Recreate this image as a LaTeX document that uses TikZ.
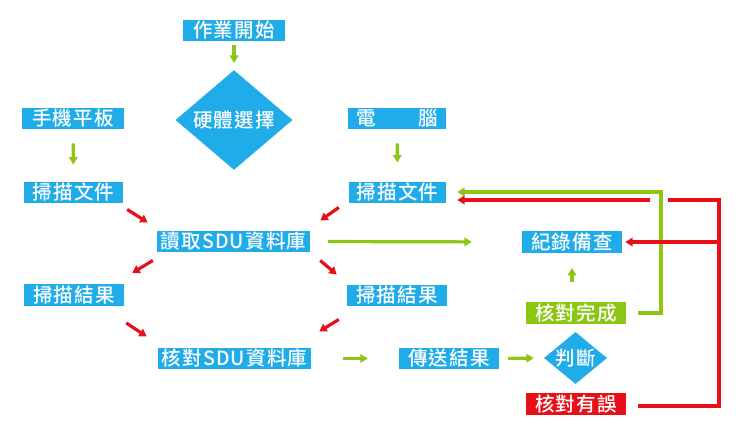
\documentclass[tikz,border=0pt]{standalone}
\usepackage{fontspec}
\setmainfont{Noto Sans CJK TC}[UprightFont={* Medium},BoldFont={* Bold}]
\usetikzlibrary{shapes.geometric,arrows.meta}
\definecolor{bx}{RGB}{32,172,232}
\definecolor{gr}{RGB}{140,198,20}
\definecolor{rd}{RGB}{232,16,24}
\begin{document}
\begin{tikzpicture}[x=1pt,y=-1pt,
  box/.style={rectangle, fill=bx, text=white, inner sep=0pt, minimum width=100pt, minimum height=21.5pt, font=\fontsize{19.5}{19.5}\selectfont\addfontfeatures{LetterSpace=6}},
  dia/.style={diamond, fill=bx, text=white, inner sep=0pt, font=\fontsize{19.5}{19.5}\selectfont\addfontfeatures{LetterSpace=6}},
  ga/.style={draw=gr, line width=3.2pt, -{Triangle[length=7.5pt,width=8.5pt]}},
  ra/.style={draw=rd, line width=3.2pt, -{Triangle[length=7.5pt,width=8.5pt]}},
  gl/.style={draw=gr, line width=3.2pt},
  rl/.style={draw=rd, line width=3.2pt}]
\useasboundingbox (0,0) rectangle (747,442);
% nodes
\node[box, minimum width=102pt] (start) at (234,30.5) {作業開始};
\node[dia, minimum width=117pt, minimum height=95pt] (sel) at (234,120) {硬體選擇};
\node[box, minimum width=102pt] (tab) at (73,118.5) {手機平板};
\node[box, minimum width=98pt] (pc) at (397,118.5) {電　　腦};
\node[box, minimum width=99pt] (scanL) at (73.5,192.5) {掃描文件};
\node[box, minimum width=97pt] (scanR) at (397.5,192.5) {掃描文件};
\node[box, minimum width=153pt] (read) at (233.5,241.5) {讀取SDU資料庫};
\node[box, minimum width=100pt] (rec) at (572,242) {紀錄備查};
\node[box, minimum width=100pt] (resL) at (74,295) {掃描結果};
\node[box, minimum width=100pt] (resR) at (397,295.5) {掃描結果};
\node[box, minimum width=100pt, fill=gr] (done) at (576,313) {核對完成};
\node[box, minimum width=153pt] (chk) at (234.5,358.5) {核對SDU資料庫};
\node[box, minimum width=100pt] (send) at (449,358.5) {傳送結果};
\node[dia, shape aspect=1.21, minimum width=63pt, minimum height=52pt] (judge) at (575.5,358) {判斷};
\node[box, minimum width=100pt, fill=rd] (err) at (576,404) {核對有誤};
% coordinates for loops
\coordinate (g1) at (638,313);
\coordinate (g2) at (661,313);
\coordinate (g3) at (661,192);
\coordinate (r1) at (638,406);
\coordinate (r2) at (719,406);
\coordinate (r3) at (719,200);
\coordinate (r4) at (668,200);
\coordinate (r5) at (650,200);
\coordinate (rb) at (719,242);
% green arrows
\draw[ga, shorten <=4pt, shorten >=7pt] (start.south) -- (sel.north);
\draw[ga, shorten <=14pt, shorten >=17pt] (tab.south) -- (scanL.north);
\draw[ga, shorten <=14pt, shorten >=19pt] (pc.south) -- (scanR.north);
\draw[ga, shorten <=18pt, shorten >=50pt] (read.east) -- (rec.west);
\draw[ga, shorten <=32pt, shorten >=31pt] (chk.east) -- (send.west);
\draw[ga, shorten <=9pt, shorten >=10pt] (send.east) -- (judge.west);
\draw[ga, shorten <=20pt, shorten >=15pt] (done.north -| rec.south) -- (rec.south);
\draw[ga, line join=miter] (g1) -- (g2) -- (g3) -- ([xshift=11pt]scanR.east |- g3);
% red diagonal arrows
\draw[ra] ([shift={(4,6)}]scanL.south east) -- ([shift={(-9,-8)}]read.north west);
\draw[ra] ([shift={(-10,4)}]scanR.south west) -- ([shift={(10,-10)}]read.north east);
\draw[ra] ([shift={(-4,8)}]read.south west) -- ([shift={(8,-11)}]resL.north east);
\draw[ra] ([shift={(10,8)}]read.south east) -- ([shift={(-10,-10)}]resR.north west);
\draw[ra] ([shift={(2,17)}]resL.south east) -- ([shift={(-11,-11)}]chk.north west);
\draw[ra] ([shift={(-8,13)}]resR.south west) -- ([shift={(8,-16)}]chk.north east);
% red loop
\draw[rl, line join=miter] (r1) -- (r2) -- (r3) -- (r4);
\draw[ra] (r5) -- ([xshift=11pt]scanR.east |- r5);
\draw[ra] (rb) -- ([xshift=3pt]rec.east);
\end{tikzpicture}
\end{document}
